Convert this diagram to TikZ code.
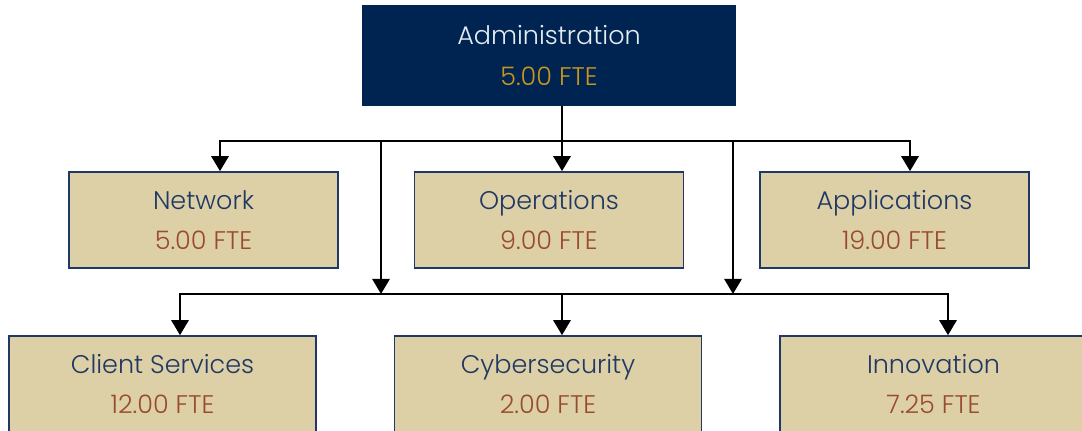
\documentclass[tikz,border=0pt]{standalone}
\usepackage{fontspec}
\setmainfont{Poppins}[UprightFont=* Light]
\usetikzlibrary{arrows.meta}
\definecolor{navy}{HTML}{002452}
\definecolor{boxline}{HTML}{1F3864}
\definecolor{beige}{HTML}{DED0A6}
\definecolor{gold}{HTML}{C8961C}
\definecolor{rust}{HTML}{984B2E}
\definecolor{pale}{HTML}{E6EBF0}

\begin{document}
\begin{tikzpicture}[x=0.02cm, y=-0.02cm,
  unit/.style={draw=boxline, line width=0.9pt, fill=beige, text=boxline, align=center,
    font=\fontsize{14.5}{22.8}\selectfont, minimum width=5.38cm, minimum height=1.92cm},
  wide/.style={minimum width=6.14cm},
  head/.style={unit, fill=navy, draw=navy, text=pale, minimum width=7.44cm, minimum height=1.98cm},
  arr/.style={-{Triangle[width=0.34cm, length=0.3cm]}, line width=1.6pt},
  link/.style={line width=1.6pt}
]
\useasboundingbox (0,0) rectangle (1082,431);
\clip (0,0) rectangle (1082,431);

\node[head] (adm) at (549,55.5) {Administration\\\textcolor{gold}{5.00 FTE}};
\node[unit] (net) at (203.5,220) {Network\\\textcolor{rust}{5.00 FTE}};
\node[unit] (ops) at (549,220) {Operations\\\textcolor{rust}{9.00 FTE}};
\node[unit] (app) at (894.5,220) {Applications\\\textcolor{rust}{19.00 FTE}};
\node[unit, wide] (cli) at (162.5,384) {Client Services\\\textcolor{rust}{12.00 FTE}};
\node[unit, wide] (cyb) at (548,384) {Cybersecurity\\\textcolor{rust}{2.00 FTE}};
\node[unit, wide] (inn) at (933.5,384) {Innovation\\\textcolor{rust}{7.25 FTE}};

% bus lines
\coordinate (bus1) at (562,141);
\coordinate (bus2) at (562,294);
\coordinate (dropL) at (381,141);
\coordinate (dropR) at (733,141);

\draw[link] (adm.south -| bus1) -- (bus1);
\draw[arr] (bus1) -| ([xshift=0.33cm]net.north);
\draw[arr] (bus1) -- (ops.north -| bus1);
\draw[arr] (bus1) -| ([xshift=0.31cm]app.north);
\draw[arr] (dropL) -- (dropL |- bus2);
\draw[arr] (dropR) -- (dropR |- bus2);

\draw[arr] (bus2) -| ([xshift=0.35cm]cli.north);
\draw[arr] (bus2) -- (cyb.north -| bus2);
\draw[arr] (bus2) -| ([xshift=0.29cm]inn.north);
\end{tikzpicture}
\end{document}
